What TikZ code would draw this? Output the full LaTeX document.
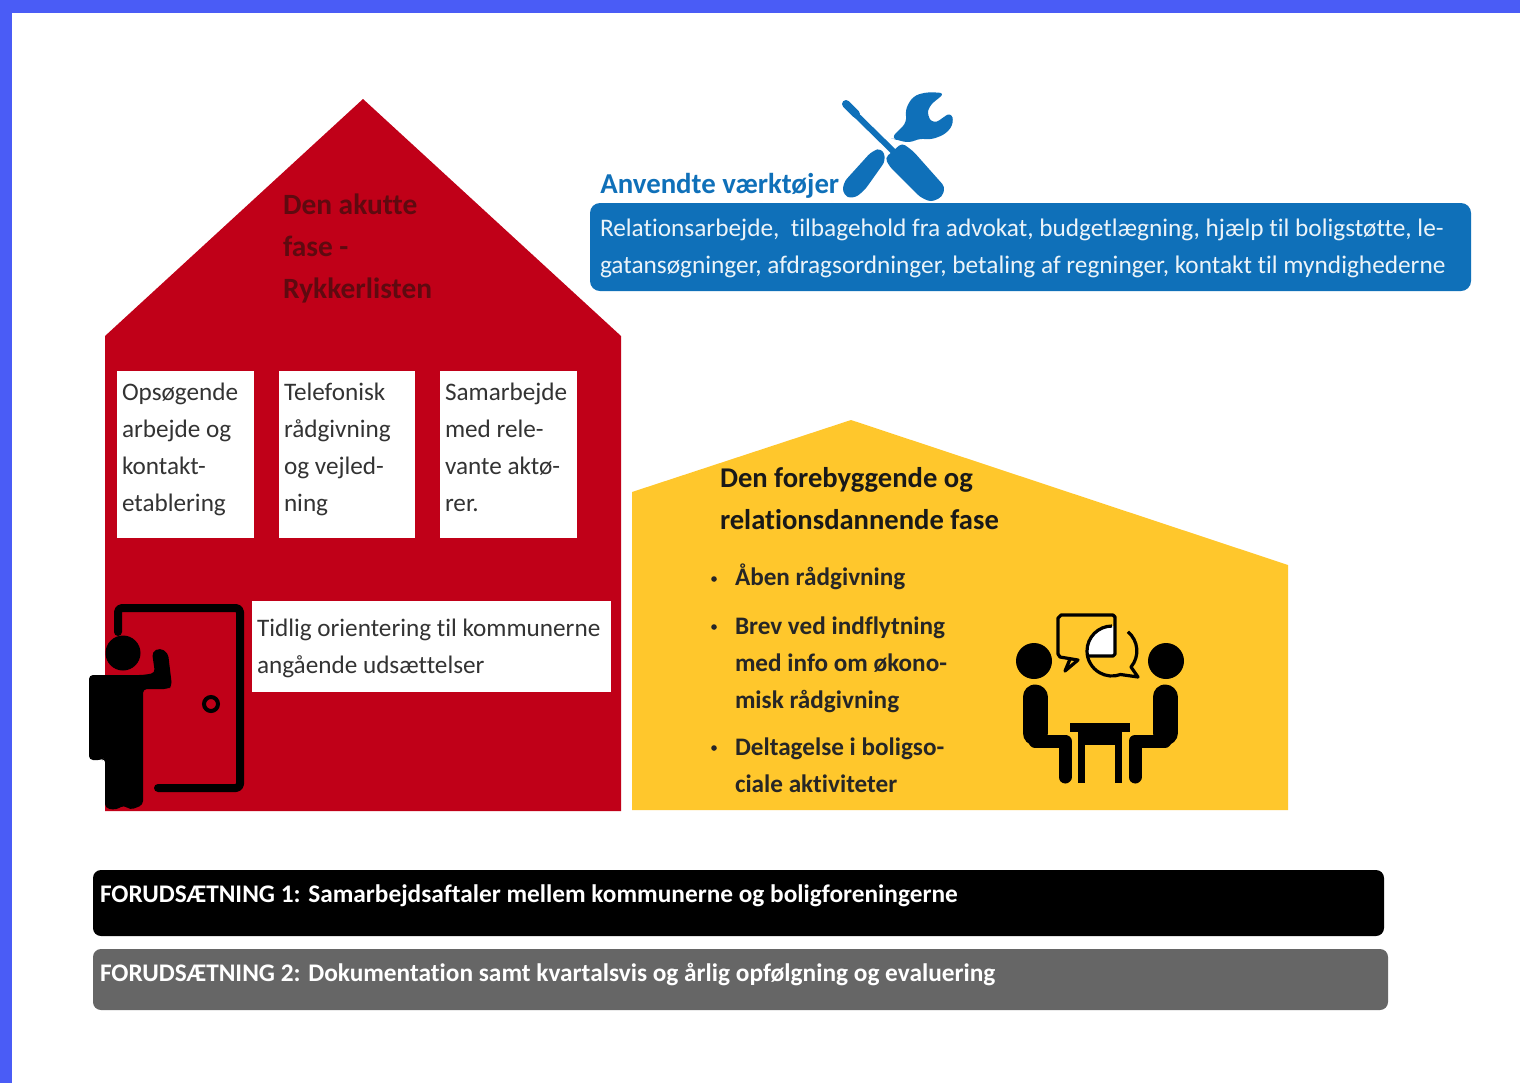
\documentclass[tikz,border=0pt]{standalone}
\usepackage{fontspec}
\setmainfont{Carlito}[Ligatures=NoCommon]
\definecolor{frameblue}{HTML}{4A5CF6}
\definecolor{housered}{HTML}{C00018}
\definecolor{houseyellow}{HTML}{FFC72C}
\definecolor{toolblue}{HTML}{0F70B9}
\definecolor{bargray}{HTML}{666666}
\definecolor{darkred}{HTML}{5E0A10}
\tikzset{x=0.5pt,y=-0.5pt,
 line/.style={anchor=base west,inner sep=0pt,outer sep=0pt,font=\fontsize{12.6}{14}\selectfont},
 redhead/.style={line,font=\fontsize{14.7}{16}\selectfont\bfseries,text=darkred},
 cardline/.style={line,text=black!80},
 toolline/.style={line,font=\fontsize{12.65}{14}\selectfont,text=white!92!toolblue},
 yhead/.style={line,font=\fontsize{14.3}{16}\selectfont\bfseries,text=black!90},
 yline/.style={line,font=\fontsize{12.6}{14}\selectfont\bfseries,text=black!85},
 barline/.style={line,font=\fontsize{12.67}{14}\selectfont\bfseries,text=white},
 card/.style={fill=white,draw=none},
 thickk/.style={line cap=round,line join=round,draw=black},
 bubble/.style={black,line width=1.6pt,line join=round},
}
\begin{document}
\begin{tikzpicture}
\useasboundingbox (0,0) rectangle (1520,1083);
\fill[white] (0,0) rectangle (1520,1083);
\fill[frameblue] (0,0) rectangle (1520,13);
\fill[frameblue] (0,0) rectangle (12,1083);
% red house
\fill[housered] (105,811) -- (105,336) -- (363,99) -- (621,336) -- (621,811) -- cycle;
\node[redhead] (r1) at (283,214) {Den akutte};
\node[redhead] (r2) at (283,256) {fase -};
\node[redhead] (r3) at (283,298) {Rykkerlisten};
% white cards
\fill[card] (117,371) rectangle (254,538);
\fill[card] (279,371) rectangle (415,538);
\fill[card] (440,371) rectangle (577,538);
\fill[card] (252,601) rectangle (611,692);
\node[cardline] (a1) at (122,400) {Opsøgende};
\node[cardline] (a2) at (122,437) {arbejde og};
\node[cardline] (a3) at (122,474) {kontakt-};
\node[cardline] (a4) at (122,511) {etablering};
\node[cardline] (b1) at (284,400) {Telefonisk};
\node[cardline] (b2) at (284,437) {rådgivning};
\node[cardline] (b3) at (284,474) {og vejled-};
\node[cardline] (b4) at (284,511) {ning};
\node[cardline] (c1) at (445,400) {Samarbejde};
\node[cardline] (c2) at (445,437) {med rele-};
\node[cardline] (c3) at (445,474) {vante aktø-};
\node[cardline] (c4) at (445,511) {rer.};
\node[cardline] (d1) at (257,636) {Tidlig orientering til kommunerne};
\node[cardline] (d2) at (257,673) {angående udsættelser};
% door
\draw[thickk,line width=4pt,rounded corners=2pt] (118,632) -- (118,608) -- (240,608) -- (240,788) -- (158,788);
\draw[black,line width=2pt] (211,704) circle (7);
% person
\fill[black] (123,653) circle (17.5);
\fill[black,rounded corners=2pt] (89,760) -- (89,675) -- (143,675) -- (155,673) -- (152,652) -- (160,648) -- (168,653) -- (172,686) -- (168,689) -- (143,689) -- (143,805) -- (130,810) -- (124,805) -- (116,810) -- (105,808) -- (105,758) -- (102,760) -- cycle;
% tools
\draw[toolblue,line width=3pt,line cap=round] (846,105) -- (895,153);
\draw[toolblue,line width=4pt,line cap=round] (846,104) -- (856,114);
\fill[toolblue,rounded corners=2pt] (885,158) -- (902,143) -- (913,151) -- (945,187) -- (942,197) -- (931,202) -- (920,197) -- (890,167) -- cycle;
\fill[toolblue,rounded corners=3pt] (891,138) -- (907,122) -- (905,110) -- (913,96) -- (927,92) -- (945,93) -- (929,106) -- (927,116) -- (934,124) -- (951,112) -- (954,123) -- (946,134) -- (930,140) -- (920,138) -- (910,143) -- (897,140) -- cycle;
\fill[toolblue,rounded corners=3pt] (872,151) -- (882,148) -- (886,160) -- (864,191) -- (853,199) -- (843,195) -- (843,183) -- cycle;
\node[anchor=base west,inner sep=0pt,font=\fontsize{14.4}{16}\selectfont\bfseries,text=toolblue] (th) at (600,193) {Anvendte værktøjer};
% blue box
\fill[toolblue,rounded corners=5pt] (590,203) rectangle (1471,291);
\node[toolline] (t1) at (600,236) {Relationsarbejde,\ \ tilbagehold fra advokat, budgetlægning, hjælp til boligstøtte, le-};
\node[toolline] (t2) at (600,273) {gatansøgninger, afdragsordninger, betaling af regninger, kontakt til myndighederne};
% yellow house
\fill[houseyellow] (632,810) -- (632,492) -- (851,420) -- (1288,565) -- (1288,810) -- cycle;
\node[yhead] (y1) at (720,487) {Den forebyggende og};
\node[yhead] (y2) at (720,529) {relationsdannende fase};
\fill[black!85] (714,579) circle (2.8);
\fill[black!85] (714,627) circle (2.8);
\fill[black!85] (714,748) circle (2.8);
\node[yline] (l1) at (735,585) {Åben rådgivning};
\node[yline] (l2) at (735,634) {Brev ved indflytning};
\node[yline] (l3) at (735,671) {med info om økono-};
\node[yline] (l4) at (735,708) {misk rådgivning};
\node[yline] (l5) at (735,755) {Deltagelse i boligso-};
\node[yline] (l6) at (735,792) {ciale aktiviteter};
% meeting icon
\fill[black] (1034,661) circle (18);
\fill[black] (1166,661) circle (18);
\draw[thickk,line width=12.5pt] (1035,697) -- (1035,733);
\draw[thickk,line width=12.5pt] (1165,697) -- (1165,733);
\draw[thickk,line width=6.5pt] (1035,741) -- (1065,741) -- (1065,777);
\draw[thickk,line width=6.5pt] (1165,741) -- (1135,741) -- (1135,777);
\fill[black] (1070,723) rectangle (1130,732);
\fill[black] (1078,730) rectangle (1122,745);
\fill[black] (1078,744) rectangle (1085,783);
\fill[black] (1115,744) rectangle (1122,783);
% speech bubbles
\begin{scope}
\clip (1058,615) rectangle (1115,656);
\fill[white] (1112,651) circle (25);
\end{scope}
\draw[bubble] (1088,656) -- (1113,656) -- (1115,654) -- (1115,617) -- (1113,615) -- (1061,615) -- (1058,618) -- (1058,654) -- (1060,657) -- (1078,660) -- (1065,671) -- (1070,659);
\draw[bubble] (1112,626) arc[start angle=90,end angle=290,radius=12.5pt] -- (1138,677) -- (1131,667) arc[start angle=-40,end angle=50,radius=12.5pt];
% bars
\fill[black,rounded corners=4pt] (93,870) rectangle (1384,936);
\fill[bargray,rounded corners=4pt] (93,949) rectangle (1388,1010);
\node[barline] (f1) at (100,902) {FORUDSÆTNING 1: Samarbejdsaftaler mellem kommunerne og boligforeningerne};
\node[barline] (f2) at (100,981) {FORUDSÆTNING 2: Dokumentation samt kvartalsvis og årlig opfølgning og evaluering};
\end{tikzpicture}
\end{document}
